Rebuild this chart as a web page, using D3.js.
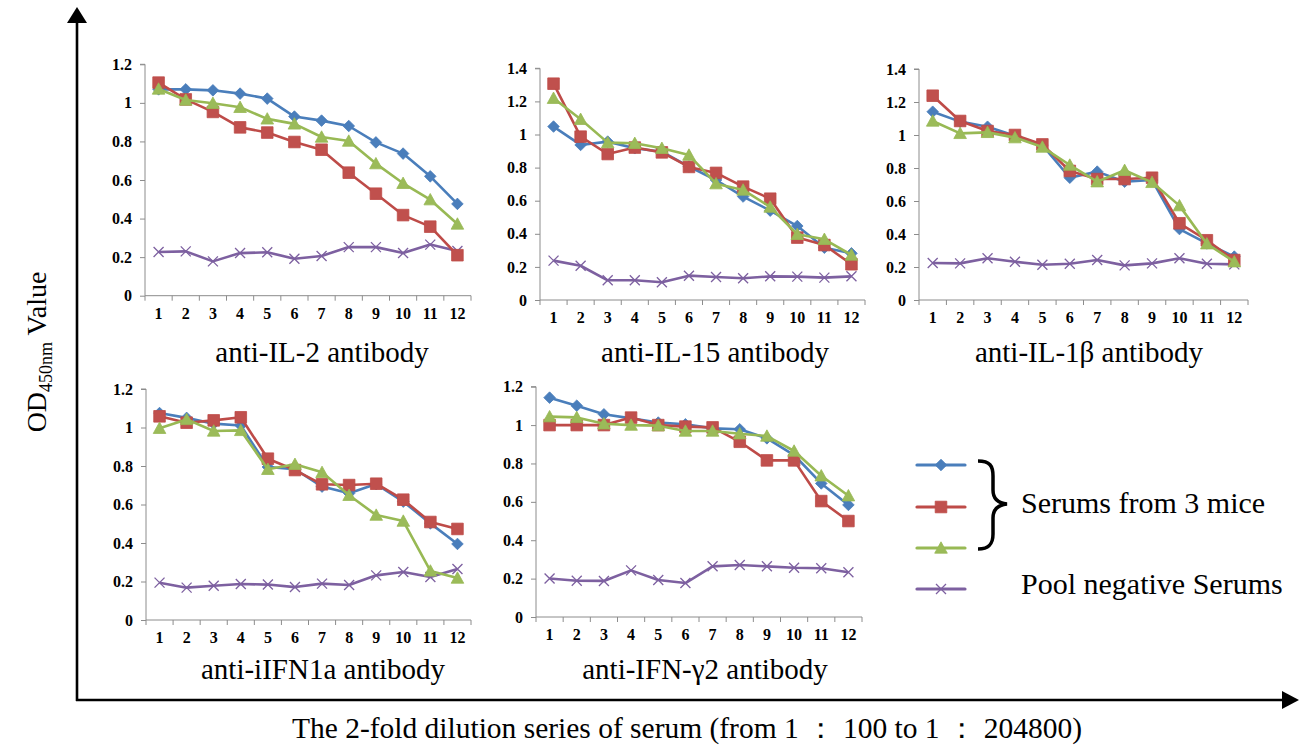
<!DOCTYPE html>
<html>
<head>
<meta charset="utf-8">
<script src="https://cdn.jsdelivr.net/npm/d3@7"></script>
<style>
  html, body { margin: 0; padding: 0; background: #fff; }
  svg { display: block; }
</style>
</head>
<body>
<svg id="chart" width="1299" height="747"></svg>
<script>
// ---------- DATA ----------
const dilutions = [1, 2, 3, 4, 5, 6, 7, 8, 9, 10, 11, 12];
const seriesNames = ["Mouse 1", "Mouse 2", "Mouse 3", "Pool negative Serums"];

// anti-IL-2 antibody
const il2_m1 = [1.07, 1.07, 1.065, 1.048, 1.022, 0.929, 0.908, 0.88, 0.795, 0.737, 0.619, 0.476];
const il2_m2 = [1.105, 1.018, 0.953, 0.873, 0.846, 0.797, 0.757, 0.638, 0.529, 0.418, 0.358, 0.21];
const il2_m3 = [1.072, 1.015, 0.998, 0.977, 0.917, 0.891, 0.823, 0.802, 0.685, 0.583, 0.498, 0.372];
const il2_neg = [0.227, 0.23, 0.178, 0.221, 0.225, 0.192, 0.206, 0.252, 0.252, 0.221, 0.265, 0.232];

// anti-IL-15 antibody
const il15_m1 = [1.048, 0.937, 0.957, 0.917, 0.896, 0.806, 0.725, 0.625, 0.54, 0.447, 0.316, 0.282];
const il15_m2 = [1.307, 0.987, 0.882, 0.921, 0.892, 0.804, 0.768, 0.685, 0.612, 0.377, 0.332, 0.216];
const il15_m3 = [1.219, 1.092, 0.951, 0.947, 0.917, 0.876, 0.703, 0.665, 0.562, 0.397, 0.367, 0.272];
const il15_neg = [0.238, 0.207, 0.119, 0.119, 0.107, 0.147, 0.139, 0.131, 0.143, 0.141, 0.135, 0.143];

// anti-IL-1β antibody
const il1b_m1 = [1.141, 1.081, 1.05, 0.996, 0.939, 0.741, 0.778, 0.717, 0.727, 0.43, 0.343, 0.263];
const il1b_m2 = [1.238, 1.085, 1.024, 1.0, 0.943, 0.782, 0.733, 0.733, 0.741, 0.465, 0.362, 0.242];
const il1b_m3 = [1.085, 1.01, 1.016, 0.984, 0.927, 0.818, 0.717, 0.786, 0.713, 0.572, 0.341, 0.232];
const il1b_neg = [0.224, 0.222, 0.253, 0.232, 0.214, 0.22, 0.242, 0.21, 0.222, 0.253, 0.22, 0.216];

// anti-iIFN1a antibody
const ifn1a_m1 = [1.075, 1.05, 1.02, 1.01, 0.795, 0.783, 0.693, 0.658, 0.706, 0.615, 0.502, 0.395];
const ifn1a_m2 = [1.058, 1.025, 1.037, 1.053, 0.838, 0.779, 0.705, 0.701, 0.708, 0.625, 0.509, 0.473];
const ifn1a_m3 = [0.996, 1.042, 0.982, 0.985, 0.783, 0.809, 0.767, 0.648, 0.545, 0.514, 0.255, 0.218];
const ifn1a_neg = [0.194, 0.168, 0.178, 0.187, 0.184, 0.171, 0.189, 0.182, 0.232, 0.249, 0.223, 0.265];

// anti-IFN-γ2 antibody
const ifng2_m1 = [1.143, 1.101, 1.056, 1.035, 1.013, 1.004, 0.983, 0.978, 0.931, 0.844, 0.696, 0.584];
const ifng2_m2 = [1.0, 1.0, 1.0, 1.039, 1.0, 0.992, 0.988, 0.913, 0.816, 0.816, 0.604, 0.5];
const ifng2_m3 = [1.044, 1.04, 1.007, 1.0, 0.997, 0.969, 0.969, 0.955, 0.943, 0.865, 0.736, 0.632];
const ifng2_neg = [0.201, 0.189, 0.188, 0.243, 0.193, 0.177, 0.264, 0.271, 0.264, 0.257, 0.254, 0.233];

const panelTitles = ["anti-IL-2 antibody", "anti-IL-15 antibody", "anti-IL-1β antibody", "anti-iIFN1a antibody", "anti-IFN-γ2 antibody"];
const yMaxes = [1.2, 1.4, 1.4, 1.2, 1.2];
const yTicks12 = [0, 0.2, 0.4, 0.6, 0.8, 1, 1.2];
const yTicks14 = [0, 0.2, 0.4, 0.6, 0.8, 1, 1.2, 1.4];
const legendLabels = ["Serums from 3 mice", "Pool negative Serums"];
const xTitle = "The 2-fold dilution series of serum (from 1 \uFF1A 100 to 1 \uFF1A 204800)";

// ---------- STYLE / LAYOUT ----------
const FONT = '"Liberation Serif"';
const colors = ["#4A7EBB", "#BE4B48", "#98B954", "#7D60A0"];
const markerFill = ["#4A7EBB", "#C0504D", "#9BBB59", "none"];
const shapes = ["diamond", "square", "triangle", "x"];

const layout = [
  { x0: 145, x1: 471, yTop: 64.3, yBot: 295.7, titleX: 322, titleY: 362 },
  { x0: 540, x1: 865, yTop: 68.3, yBot: 300, titleX: 715, titleY: 362 },
  { x0: 919, x1: 1248, yTop: 69, yBot: 300, titleX: 1089, titleY: 362 },
  { x0: 146, x1: 471, yTop: 389, yBot: 620, titleX: 323, titleY: 679 },
  { x0: 536, x1: 862, yTop: 386.7, yBot: 617, titleX: 705, titleY: 679 }
];

const panelData = [
  [il2_m1, il2_m2, il2_m3, il2_neg],
  [il15_m1, il15_m2, il15_m3, il15_neg],
  [il1b_m1, il1b_m2, il1b_m3, il1b_neg],
  [ifn1a_m1, ifn1a_m2, ifn1a_m3, ifn1a_neg],
  [ifng2_m1, ifng2_m2, ifng2_m3, ifng2_neg]
];

const svg = d3.select("#chart");

function markerPath(shape) {
  switch (shape) {
    case "diamond": return "M0,-5.8L5.8,0L0,5.8L-5.8,0Z";
    case "square": return "M-5.8,-5.8H5.8V5.8H-5.8Z";
    case "triangle": return "M0,-6.2L6.3,5.2H-6.3Z";
    case "x": return "M-5,-5L5,5M-5,5L5,-5";
  }
}

function drawMarker(g, shape, i, x, y) {
  const p = g.append("path")
    .attr("d", markerPath(shape))
    .attr("transform", `translate(${x},${y})`);
  if (shape === "x") {
    p.attr("fill", "none").attr("stroke", colors[i]).attr("stroke-width", 1.3);
  } else {
    p.attr("fill", markerFill[i]).attr("stroke", colors[i]).attr("stroke-width", 0.8);
  }
}

panelData.forEach((series, pi) => {
  const L = layout[pi];
  const g = svg.append("g");
  const x = d3.scaleBand().domain(dilutions).range([L.x0, L.x1]);
  const y = d3.scaleLinear().domain([0, yMaxes[pi]]).range([L.yBot, L.yTop]);
  const ticks = yMaxes[pi] > 1.3 ? yTicks14 : yTicks12;

  // Y axis
  const yAxis = d3.axisLeft(y).tickValues(ticks).tickSize(5).tickPadding(8)
    .tickFormat(d => d === 0 ? "0" : String(+d.toFixed(1)));
  const ya = g.append("g").attr("transform", `translate(${L.x0},0)`).call(yAxis);
  ya.attr("font-family", null).attr("font-size", null);
  ya.select(".domain").attr("stroke", "#8C8C8C").attr("d", `M-5,${L.yTop}H0V${L.yBot}`);
  ya.selectAll(".tick line").attr("stroke", "#8C8C8C");
  ya.selectAll(".tick text").style("font-family", FONT).style("font-weight", "bold")
    .style("font-size", "16px").attr("fill", "#000");

  // X axis: labels centered, tick marks between categories
  const xa = g.append("g").attr("transform", `translate(0,${L.yBot})`);
  xa.append("line").attr("x1", L.x0).attr("x2", L.x1).attr("y1", 0).attr("y2", 0)
    .attr("stroke", "#8C8C8C");
  const bounds = dilutions.map(d => x(d)).concat([x(dilutions[dilutions.length - 1]) + x.bandwidth()]);
  xa.selectAll("line.tk").data(bounds).join("line").attr("class", "tk")
    .attr("x1", d => d).attr("x2", d => d).attr("y1", 0).attr("y2", 5).attr("stroke", "#8C8C8C");
  xa.selectAll("text").data(dilutions).join("text")
    .attr("x", d => x(d) + x.bandwidth() / 2).attr("y", 23)
    .attr("text-anchor", "middle").style("font-family", FONT).style("font-weight", "bold")
    .style("font-size", "16px").text(d => d);

  const line = d3.line().x((d, i) => x(dilutions[i]) + x.bandwidth() / 2).y(d => y(d));
  const order = [3, 0, 1, 2];
  order.forEach(si => {
    const vals = series[si];
    g.append("path").datum(vals).attr("d", line).attr("fill", "none")
      .attr("stroke", colors[si]).attr("stroke-width", 2.6).attr("stroke-linejoin", "round");
    vals.forEach((v, i) => drawMarker(g, shapes[si], si, x(dilutions[i]) + x.bandwidth() / 2, y(v)));
  });

  // Title
  svg.append("text").attr("x", L.titleX).attr("y", L.titleY).attr("text-anchor", "middle")
    .style("font-family", FONT).style("font-size", "29px").text(panelTitles[pi]);
});

// ---------- Big axes with arrows ----------
const axG = svg.append("g");
axG.append("line").attr("x1", 77).attr("x2", 77).attr("y1", 20).attr("y2", 701)
  .attr("stroke", "#000").attr("stroke-width", 2.6);
axG.append("line").attr("x1", 76).attr("x2", 1284).attr("y1", 700).attr("y2", 700)
  .attr("stroke", "#000").attr("stroke-width", 2.6);
axG.append("path").attr("d", "M77,7L87,23H67Z").attr("fill", "#000");
axG.append("path").attr("d", "M1299,700L1282,691V709Z").attr("fill", "#000");

// X title
svg.append("text").attr("x", 292).attr("y", 738)
  .attr("textLength", 790).attr("lengthAdjust", "spacingAndGlyphs")
  .style("font-family", FONT).style("font-size", "29px").text(xTitle);

// Y title
const yt = svg.append("text").attr("transform", "translate(46,352) rotate(-90)")
  .attr("text-anchor", "middle").style("font-family", FONT).style("font-size", "28px");
yt.append("tspan").style("font-family", FONT).style("font-size", "28px").text("OD");
yt.append("tspan").style("font-family", FONT).style("font-size", "18px").attr("dy", 6).text("450nm");
yt.append("tspan").style("font-family", FONT).style("font-size", "28px").attr("dy", -6).text(" Value");

// ---------- Legend ----------
const legY = [465, 507, 548, 589];
const leg = svg.append("g");
legY.forEach((ly, i) => {
  leg.append("line").attr("x1", 917).attr("x2", 965).attr("y1", ly).attr("y2", ly)
    .attr("stroke", colors[i]).attr("stroke-width", 3.2).attr("stroke-linecap", "round");
  drawMarker(leg, shapes[i], i, 941, ly);
});
leg.append("path")
  .attr("d", "M978,461 C990,461 993,466 993,476 L993,490 C993,498 997,503 1007,504 C997,505 993,510 993,518 L993,534 C993,543 990,549 978,549")
  .attr("fill", "none").attr("stroke", "#000").attr("stroke-width", 3.5);
leg.append("text").attr("x", 1021).attr("y", 513).style("font-family", FONT)
  .style("font-size", "30px").text(legendLabels[0]);
leg.append("text").attr("x", 1021).attr("y", 594).style("font-family", FONT)
  .style("font-size", "30px").text(legendLabels[1]);
</script>
</body>
</html>
